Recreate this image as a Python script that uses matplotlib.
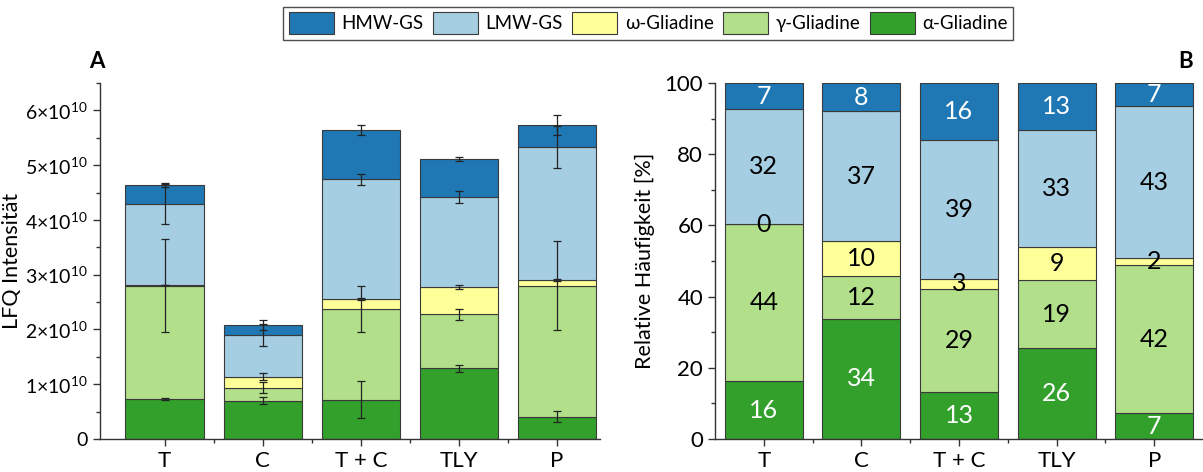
import matplotlib
matplotlib.use('Agg')
import matplotlib.pyplot as plt
import numpy as np
from matplotlib.ticker import MultipleLocator, FixedLocator, FuncFormatter
from matplotlib.patches import Patch

plt.rcParams['font.family'] = ['Lato', 'DejaVu Sans']
plt.rcParams['mathtext.fontset'] = 'custom'
plt.rcParams['mathtext.rm'] = 'Lato'

categories = ['T', 'C', 'T + C', 'TLY', 'P']
series = ['α-Gliadine', 'γ-Gliadine', 'ω-Gliadine', 'LMW-GS', 'HMW-GS']
colors = ['#33a02c', '#b2df8a', '#ffff99', '#a6cee3', '#1f78b4']

# Panel A: LFQ intensity, units of 1e10
lfq_alpha = [0.73, 0.70, 0.72, 1.29, 0.41]
lfq_gamma = [2.07, 0.24, 1.66, 0.99, 2.39]
lfq_omega = [0.01, 0.20, 0.17, 0.49, 0.10]
lfq_lmw = [1.48, 0.76, 2.19, 1.65, 2.43]
lfq_hmw = [0.35, 0.18, 0.90, 0.69, 0.40]

err_alpha = [0.02, 0.07, 0.33, 0.07, 0.10]
err_gamma = [0.85, 0.10, 0.42, 0.10, 0.81]
err_omega = [0.00, 0.06, 0.02, 0.04, 0.02]
err_lmw = [0.36, 0.20, 0.10, 0.11, 0.38]
err_hmw = [0.03, 0.085, 0.085, 0.03, 0.18]

# Panel B: relative abundance [%]
pct_alpha = [16.2, 33.8, 13.1, 25.6, 7.2]
pct_gamma = [44.1, 12.0, 29.1, 19.0, 41.6]
pct_omega = [0.0, 9.7, 2.8, 9.4, 2.0]
pct_lmw = [32.3, 36.6, 39.1, 32.7, 42.6]
pct_hmw = [7.4, 7.9, 15.9, 13.3, 6.6]

lab_alpha = ['16', '34', '13', '26', '7']
lab_gamma = ['44', '12', '29', '19', '42']
lab_omega = ['0', '10', '3', '9', '2']
lab_lmw = ['32', '37', '39', '33', '43']
lab_hmw = ['7', '8', '16', '13', '7']

lfq = [lfq_alpha, lfq_gamma, lfq_omega, lfq_lmw, lfq_hmw]
errs = [err_alpha, err_gamma, err_omega, err_lmw, err_hmw]
pct = [pct_alpha, pct_gamma, pct_omega, pct_lmw, pct_hmw]
labs = [lab_alpha, lab_gamma, lab_omega, lab_lmw, lab_hmw]
text_colors = ['white', 'black', 'black', 'black', 'white']

W, H = 1203, 472
fig = plt.figure(figsize=(W / 100, H / 100), dpi=100)

axA = fig.add_axes([100 / W, 33 / H, 500 / W, 356 / H])
axB = fig.add_axes([715 / W, 33 / H, 488 / W, 356 / H])

x = np.arange(len(categories))
edge = '#3a3a3a'
axis_col = '#333333'

# Panel A
bottom = np.zeros(len(categories))
for vals, er, c in zip(lfq, errs, colors):
    v = np.array(vals) * 1e10
    axA.bar(x, v, 0.8, bottom=bottom, color=c, edgecolor=edge, linewidth=0.8, zorder=2)
    top = bottom + v
    axA.errorbar(x, top, yerr=np.array(er) * 1e10, fmt='none', ecolor='#222222',
                 elinewidth=0.9, capsize=3, capthick=0.9, zorder=3)
    bottom = top

axA.set_ylim(0, 6.5e10)
axA.set_xlim(-0.66, 4.44)
axA.yaxis.set_major_locator(FixedLocator([i * 1e10 for i in range(7)]))
axA.yaxis.set_minor_locator(MultipleLocator(0.5e10))


def fmtA(v, pos):
    n = int(round(v / 1e10))
    if n == 0:
        return '0'
    return r'%d×10$^{\mathregular{10}}$' % n


axA.yaxis.set_major_formatter(FuncFormatter(fmtA))
axA.set_ylabel('LFQ Intensität', fontsize=15.5)
axA.yaxis.set_label_coords(-0.156, 0.5)
axA.text(-0.006, 1.06, 'A', transform=axA.transAxes, fontsize=16, fontweight='bold',
         ha='center', va='center')

# Panel B
bottom = np.zeros(len(categories))
for vals, lb, c, tc in zip(pct, labs, colors, text_colors):
    v = np.array(vals)
    axB.bar(x, v, 0.8, bottom=bottom, color=c, edgecolor=edge, linewidth=0.8, zorder=2)
    for xi, b, h, s in zip(x, bottom, v, lb):
        axB.text(xi, b + h / 2, s, ha='center', va='center', fontsize=18, color=tc, zorder=4)
    bottom = bottom + v

axB.set_ylim(0, 100)
axB.set_xlim(-0.5, 4.5)
axB.yaxis.set_major_locator(MultipleLocator(20))
axB.yaxis.set_minor_locator(MultipleLocator(10))
axB.set_ylabel('Relative Häufigkeit [%]', fontsize=15.5)
axB.yaxis.set_label_coords(-0.123, 0.5)
axB.text(0.965, 1.06, 'B', transform=axB.transAxes, fontsize=16, fontweight='bold',
         ha='center', va='center')

for ax in (axA, axB):
    ax.set_xticks(x)
    ax.set_xticklabels(categories)
    ax.set_xticks(x[:-1] + 0.5, minor=True)
    ax.spines['top'].set_visible(False)
    ax.spines['right'].set_visible(False)
    for s in ('left', 'bottom'):
        ax.spines[s].set_color(axis_col)
        ax.spines[s].set_linewidth(1.0)
    ax.tick_params(axis='both', which='major', direction='out', length=5, width=1,
                   color=axis_col, labelsize=16)
    ax.tick_params(axis='both', which='minor', direction='out', length=3, width=1,
                   color=axis_col)
axA.tick_params(axis='y', which='major', labelsize=14)

handles = [Patch(facecolor=c, edgecolor=edge, linewidth=0.8, label=s)
           for c, s in zip(colors[::-1], series[::-1])]
fig.legend(handles=handles, loc='center', bbox_to_anchor=(0.539, 0.951), ncol=5,
           fontsize=13.5, frameon=True, fancybox=False, edgecolor='#222222',
           handlelength=2.4, handleheight=1.4, handletextpad=0.4, columnspacing=0.5,
           borderpad=0.3, borderaxespad=0)

fig.savefig('out.png', dpi=100)
